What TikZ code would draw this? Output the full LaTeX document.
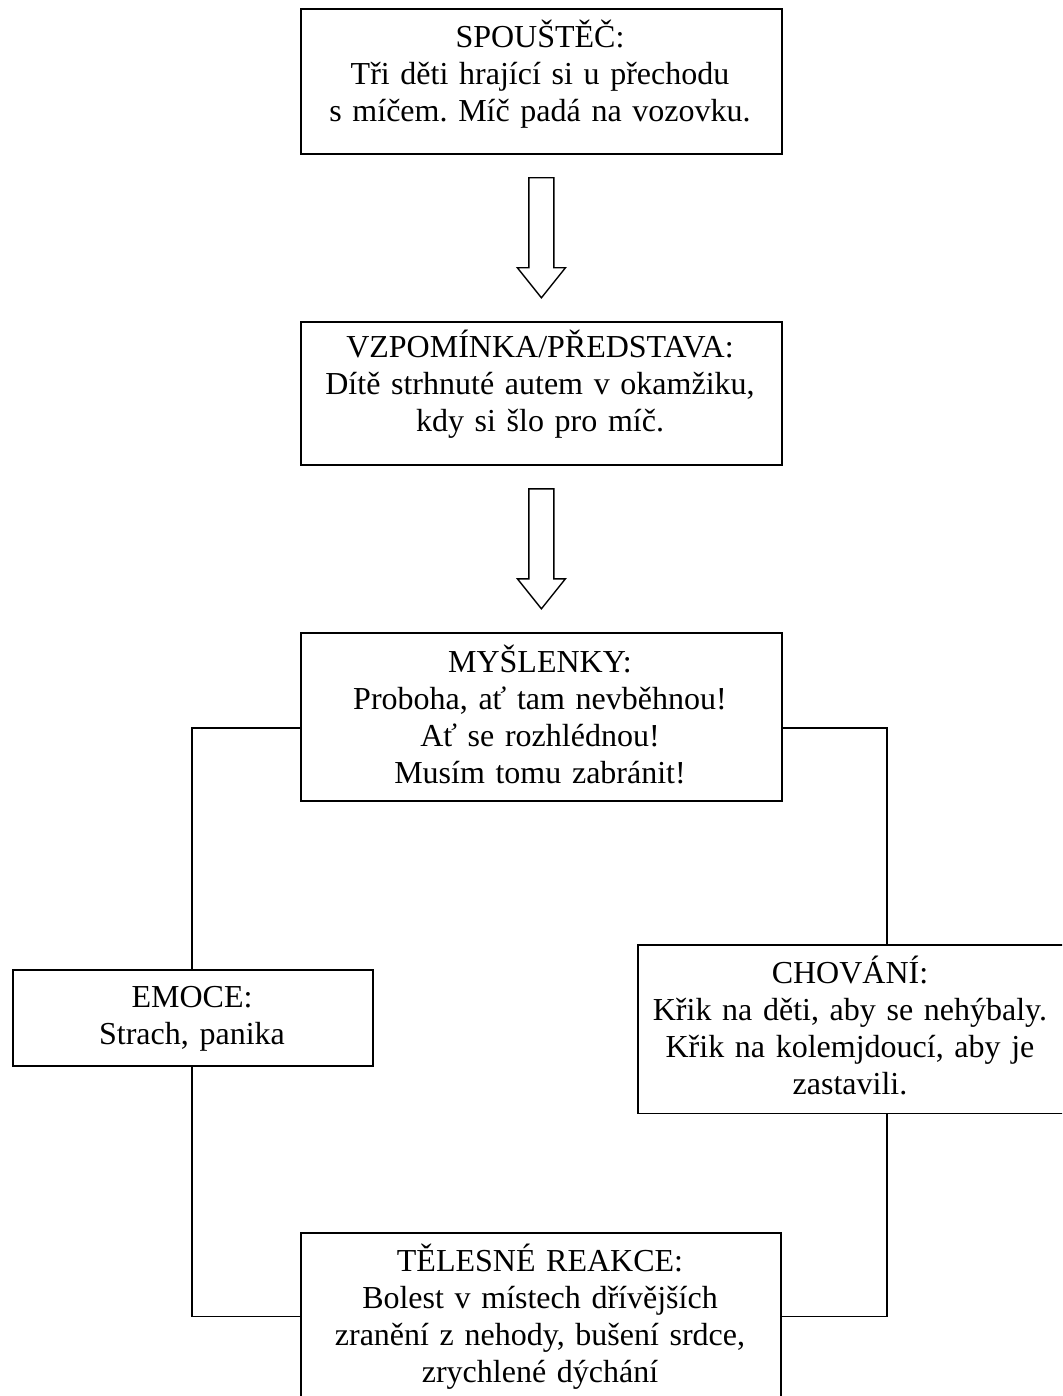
\documentclass[tikz,border=0pt]{standalone}
\usepackage{fontspec}
\setmainfont{Liberation Serif}
\usetikzlibrary{calc}
\frenchspacing
\tikzset{
  boxframe/.style={draw=black, line width=1.8pt, inner sep=0pt, anchor=north west, fill=white},
  boxtext/.style={anchor=base, align=center, inner sep=0pt, font=\fontsize{32}{37}\selectfont},
  link/.style={draw=black, line width=1.4pt, line cap=rect, line join=miter},
  hollow/.style={draw=black, line width=1.4pt, fill=white, line join=miter}
}
\newcommand{\hollowarrow}[1]{%
  \draw[hollow] ($(#1)+(-12.5,23)$) -- ($(#1)+(-12.5,113)$) -- ($(#1)+(-24,113)$)
    -- ($(#1)+(0,143)$) -- ($(#1)+(24,113)$) -- ($(#1)+(12.5,113)$)
    -- ($(#1)+(12.5,23)$) -- cycle;}
\begin{document}
\begin{tikzpicture}[x=1pt, y=-1pt]
\useasboundingbox (0,0) rectangle (1062,1396);
\clip (0,0) rectangle (1062,1396);
\fill[white] (0,0) rectangle (1062,1396);

% connector corners
\coordinate (l1) at (192,728);
\coordinate (l2) at (192,1316.5);
\coordinate (r1) at (887,728);
\coordinate (r2) at (887,1316.5);

% boxes
\node[boxframe, minimum width=481pt, minimum height=145pt] (b1) at (300,8) {};
\node[boxframe, minimum width=481pt, minimum height=143pt] (b2) at (300,321) {};
\node[boxframe, minimum width=481pt, minimum height=168pt] (b3) at (300,632) {};
\node[boxframe, minimum width=360pt, minimum height=96pt] (emo) at (12,969) {};
\node[boxframe, minimum width=427pt, minimum height=168.5pt] (cho) at (637,944) {};
\node[boxframe, minimum width=480pt, minimum height=168pt] (b4) at (300,1232) {};

% connectors
\draw[link] (b3.west |- l1) -- (l1) -- (l1 |- emo.north);
\draw[link] (l1 |- emo.south) -- (l2) -- (b4.west |- l2);
\draw[link] (b3.east |- r1) -- (r1) -- (r1 |- cho.north);
\draw[link] (r1 |- cho.south) -- (r2) -- (b4.east |- r2);

% hollow block arrows
\hollowarrow{b1.south}
\hollowarrow{b2.south}

% texts
\node[boxtext, text width=470pt] (t1) at (540,48)
  {SPOUŠTĚČ:\\Tři děti hrající si u přechodu\\s míčem. Míč padá na vozovku.};
\node[boxtext, text width=470pt] (t2) at (540,357)
  {VZPOMÍNKA/PŘEDSTAVA:\\Dítě strhnuté autem v okamžiku,\\kdy si šlo pro míč.};
\node[boxtext, text width=470pt] (t3) at (540,672)
  {MYŠLENKY:\\Proboha, ať tam nevběhnou!\\Ať se rozhlédnou!\\Musím tomu zabránit!};
\node[boxtext, text width=350pt] (t4) at (192,1007)
  {EMOCE:\\Strach, panika};
\node[boxtext, text width=420pt] (t5) at (850,983)
  {CHOVÁNÍ:\\Křik na děti, aby se nehýbaly.\\Křik na kolemjdoucí, aby je\\zastavili.};
\node[boxtext, text width=470pt] (t6) at (540,1271)
  {TĚLESNÉ REAKCE:\\Bolest v místech dřívějších\\zranění z nehody, bušení srdce,\\zrychlené dýchání};
\end{tikzpicture}
\end{document}
